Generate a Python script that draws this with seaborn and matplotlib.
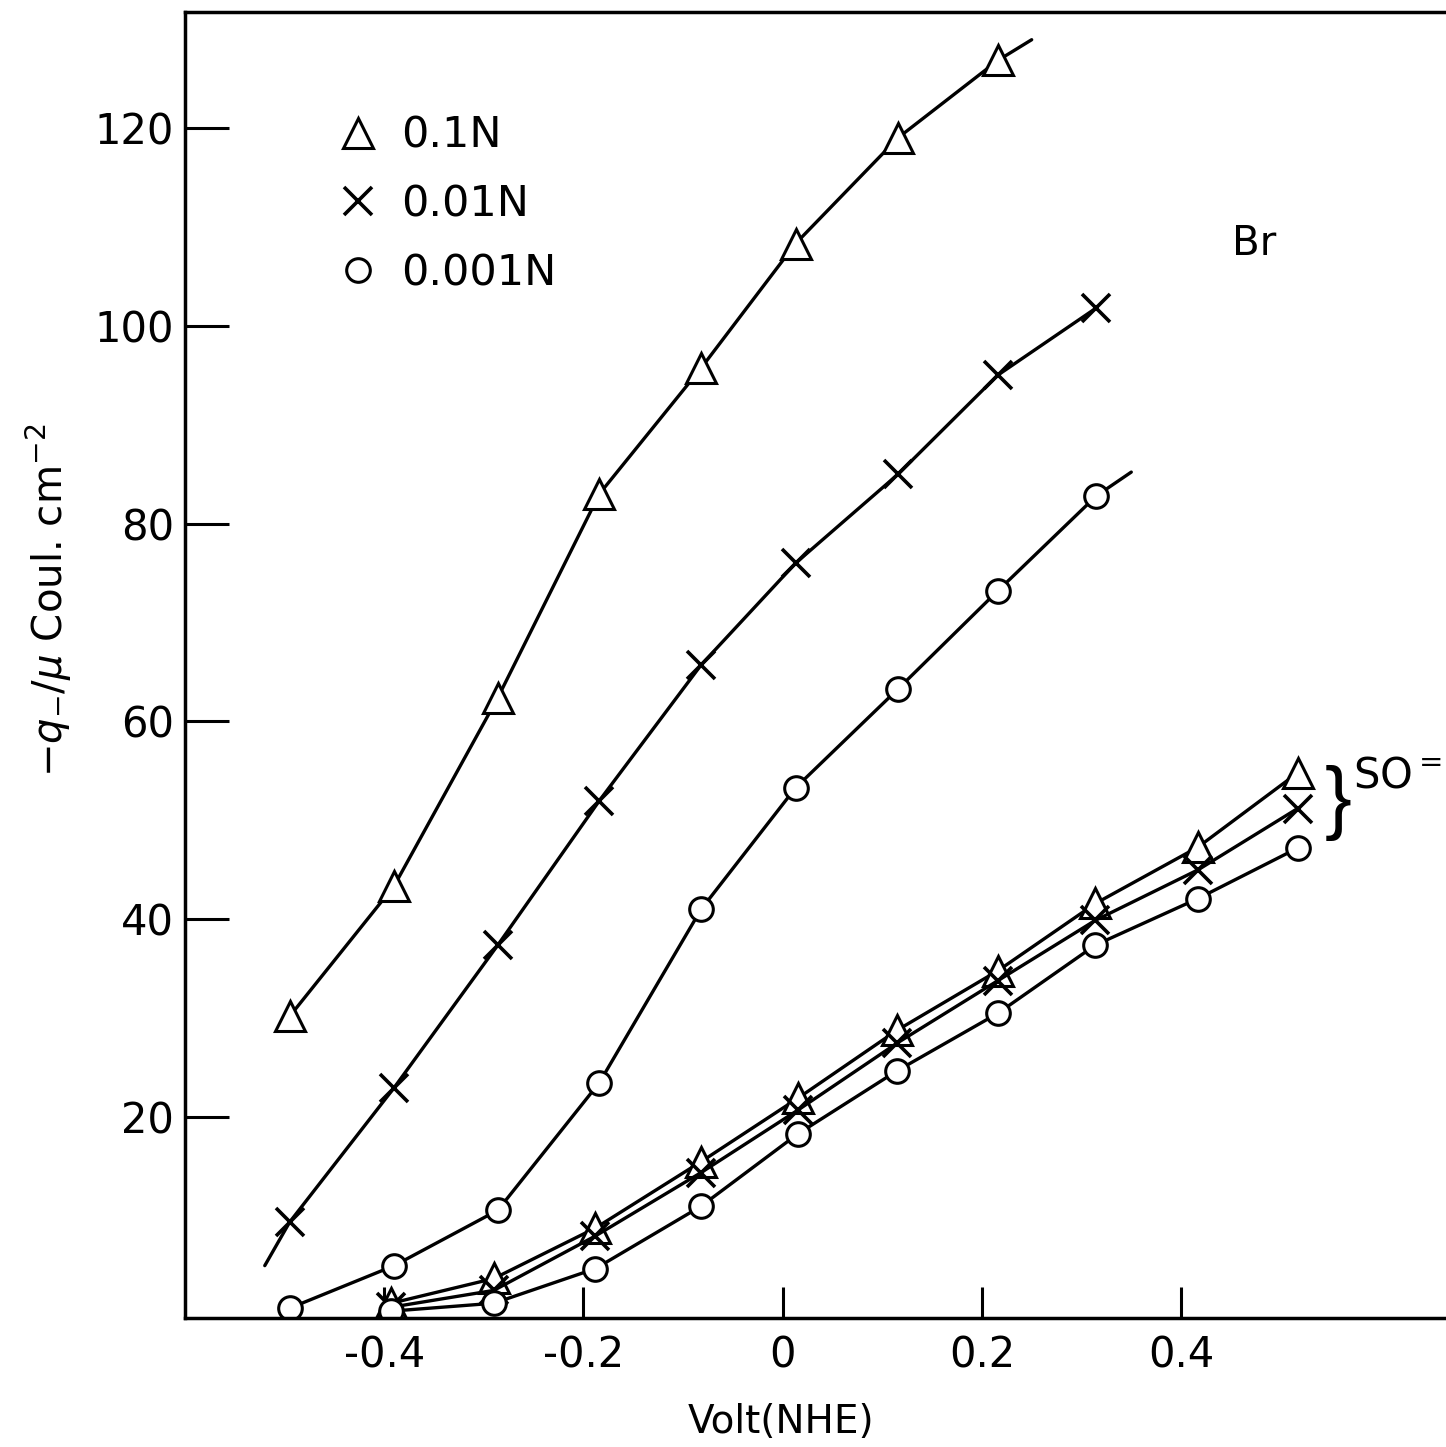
import numpy as np
import pandas as pd
import matplotlib
matplotlib.use('Agg')
import matplotlib.pyplot as plt
import seaborn as sns

# potentials (V vs NHE) at which the charge was measured, as plotted
volt_br = [-0.495, -0.39, -0.286, -0.184, -0.082, 0.013, 0.116, 0.216, 0.315]
volt_so4 = [-0.393, -0.29, -0.188, -0.082, 0.015, 0.115, 0.216, 0.314, 0.417, 0.517]

# Br- solutions, -q/uC cm^-2
br_01 = [30.2, 43.4, 62.4, 83.0, 95.7, 108.3, 119.0, 126.8]
br_001 = [9.4, 23.0, 37.4, 52.0, 65.7, 76.0, 85.0, 95.0, 101.8]
br_0001 = [0.7, 5.0, 10.6, 23.5, 41.0, 53.3, 63.3, 73.2, 82.8]

# SO4= solutions
so4_01 = [1.2, 3.7, 8.8, 15.5, 21.9, 28.8, 34.8, 41.6, 47.3, 54.8]
so4_001 = [0.8, 2.5, 8.0, 14.4, 20.7, 27.5, 33.8, 39.9, 45.0, 51.2]
so4_0001 = [0.4, 1.2, 4.7, 11.0, 18.3, 24.7, 30.5, 37.4, 42.1, 47.2]

# where the drawn curves run past the first / last point
br_01_end = (0.25, 128.9)
br_001_start = (-0.52, 5.0)
br_0001_end = (0.35, 85.2)

labels = ['0.1N', '0.01N', '0.001N']

sns.set_style('white')
plt.rcParams['font.family'] = ['DejaVu Sans']
plt.rcParams['text.color'] = 'black'
plt.rcParams['axes.labelcolor'] = 'black'

fig = plt.figure(figsize=(14.46, 14.47), dpi=100)
ax = fig.add_axes([0.128, 0.0891, 0.872, 0.9026])

line_kw = dict(color='black', lw=2.4, estimator=None, sort=False, ax=ax)
mk = {
    '^': dict(marker='^', markersize=21, markerfacecolor='white',
              markeredgecolor='black', markeredgewidth=2.2),
    'x': dict(marker='x', markersize=20, markeredgecolor='black', markeredgewidth=2.6),
    'o': dict(marker='o', markersize=17, markerfacecolor='white',
              markeredgecolor='black', markeredgewidth=2.2),
}


def curve(xs, ys, m, start=None, end=None):
    lx, ly = list(xs), list(ys)
    if start:
        lx, ly = [start[0]] + lx, [start[1]] + ly
    if end:
        lx, ly = lx + [end[0]], ly + [end[1]]
    sns.lineplot(x=lx, y=ly, **line_kw)
    sns.lineplot(x=list(xs), y=list(ys), color='black', linestyle='',
                 estimator=None, sort=False, ax=ax, **mk[m])


curve(volt_br[:len(br_01)], br_01, '^', end=br_01_end)
curve(volt_br, br_001, 'x', start=br_001_start)
curve(volt_br, br_0001, 'o', end=br_0001_end)
curve(volt_so4, so4_01, '^')
curve(volt_so4, so4_001, 'x')
curve(volt_so4, so4_0001, 'o')

ax.set_xlim(-0.6, 0.666)
ax.set_ylim(-0.3, 131.7)
ax.set_xticks([-0.4, -0.2, 0, 0.2, 0.4])
ax.set_xticklabels(['-0.4', '-0.2', '0', '0.2', '0.4'])
ax.set_yticks([20, 40, 60, 80, 100, 120])
ax.tick_params(direction='in', width=2.2, labelsize=30, colors='black',
               bottom=True, left=True)
ax.tick_params(axis='y', length=32, pad=8)
ax.tick_params(axis='x', length=22, pad=12)
for s in ['left', 'bottom', 'top']:
    ax.spines[s].set_linewidth(2.5)
    ax.spines[s].set_color('black')
ax.spines['right'].set_visible(False)

ax.set_xlabel('Volt(NHE)', fontsize=28)
ax.xaxis.set_label_coords(0.473, -0.065)
ax.set_ylabel(r'$-q_{-}/\mu$ Coul. cm$^{-2}$', fontsize=29)
ax.yaxis.set_label_coords(-0.088, 0.55)

# legend for the three concentrations
handles = [plt.Line2D([], [], linestyle='', **mk[m]) for m in ['^', 'x', 'o']]
ax.legend(handles, labels, loc='upper left', bbox_to_anchor=(0.093, 0.951), frameon=False,
          fontsize=31, handlelength=0.8, handletextpad=0.6, labelspacing=0.62)

ax.text(0.830, 0.822, 'Br', transform=ax.transAxes, fontsize=29, va='center')
ax.text((1338 - 185) / 1261, (1318 - 803) / 1306, '}', transform=ax.transAxes,
        fontsize=58, va='center', ha='center', family='Liberation Sans')
ax.text((1353 - 185) / 1261, (1318 - 775) / 1306, r'SO$^{=}$', transform=ax.transAxes,
        fontsize=30, va='center', ha='left')

fig.savefig('out.png', dpi=100)
